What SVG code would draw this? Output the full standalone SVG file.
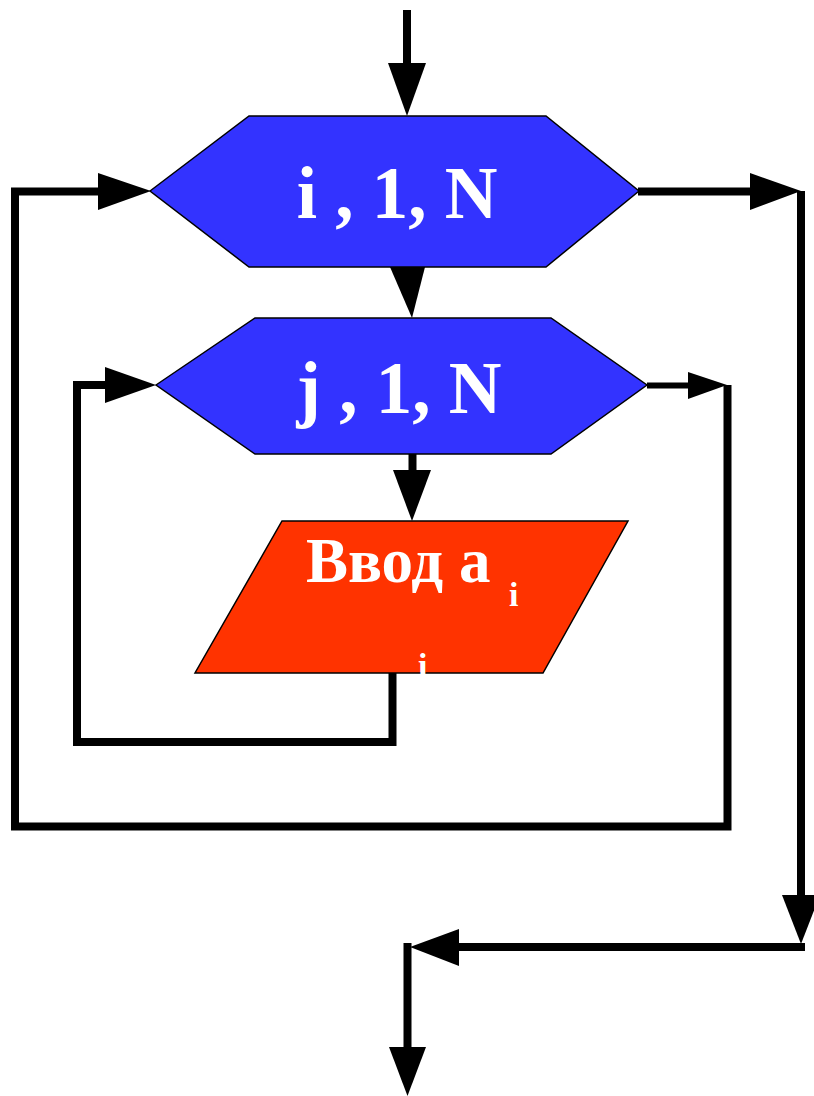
<svg xmlns="http://www.w3.org/2000/svg" width="814" height="1096" viewBox="0 0 814 1096">
<style>
.blk{fill:#3333FF;stroke:#000;stroke-width:1.5;stroke-linejoin:miter}
.io{fill:#FF3300;stroke:#000;stroke-width:1.5}
.t{fill:#fff;font-family:"Liberation Serif","Times New Roman",serif;font-weight:bold}
.ln{fill:none;stroke:#000;stroke-width:8;stroke-linejoin:miter;stroke-linecap:butt}
.ln6{fill:none;stroke:#000;stroke-width:6}
.ah{fill:#000;stroke:none}
</style>
<rect width="814" height="1096" fill="#fff"/>
<g id="connectors">
  <line class="ln" x1="407" y1="10" x2="407" y2="65"/>
  <polygon class="ah" points="388,63 426,63 407,116"/>
  <polygon class="ah" points="390,267 425,267 412,318"/>
  <line class="ln" x1="412.5" y1="453" x2="412.5" y2="472"/>
  <polygon class="ah" points="393,470 431,470 412,521"/>
  <polyline class="ln" points="392.5,673 392.5,742 77,742 77,385 107,385"/>
  <polygon class="ah" points="105,367 105,403 156,385"/>
  <line class="ln6" x1="647" y1="385.5" x2="690" y2="385.5"/>
  <polygon class="ah" points="688,372 688,399 727,385"/>
  <polyline class="ln" points="727.5,385 727.5,826.5 15,826.5 15,191.5 100,191.5"/>
  <polygon class="ah" points="98,173 98,210 151,191"/>
  <line class="ln" x1="638" y1="191.5" x2="752" y2="191.5"/>
  <polygon class="ah" points="750,173 750,210 801,191"/>
  <line class="ln" x1="801" y1="191" x2="801" y2="897"/>
  <polygon class="ah" points="782,895 820,895 801,944"/>
  <line class="ln" x1="805" y1="947" x2="457" y2="947"/>
  <polygon class="ah" points="459,929 459,966 410,947"/>
  <polyline class="ln" points="403.5,947 407.5,947 407.5,1049"/>
  <polygon class="ah" points="389,1047 426,1047 407.5,1096"/>
</g>
<g id="loop-i">
  <polygon class="blk" points="150,191 249,116 546,116 639,191 546,267 249,267"/>
  <text class="t" x="397" y="218" font-size="73" text-anchor="middle">i , 1, N</text>
</g>
<g id="loop-j">
  <polygon class="blk" points="156,385 255,318 551,318 647,385 551,454 255,454"/>
  <text class="t" x="399" y="413" font-size="73" text-anchor="middle">j , 1, N</text>
</g>
<g id="input">
  <polygon class="io" points="282,521 628,521 543,673 195,673"/>
  <text class="t" x="306" y="582" font-size="63">Ввод a</text>
  <text class="t" x="509" y="606" font-size="34">i</text>
  <text class="t" x="418" y="677" font-size="34">i</text>
</g>
</svg>
